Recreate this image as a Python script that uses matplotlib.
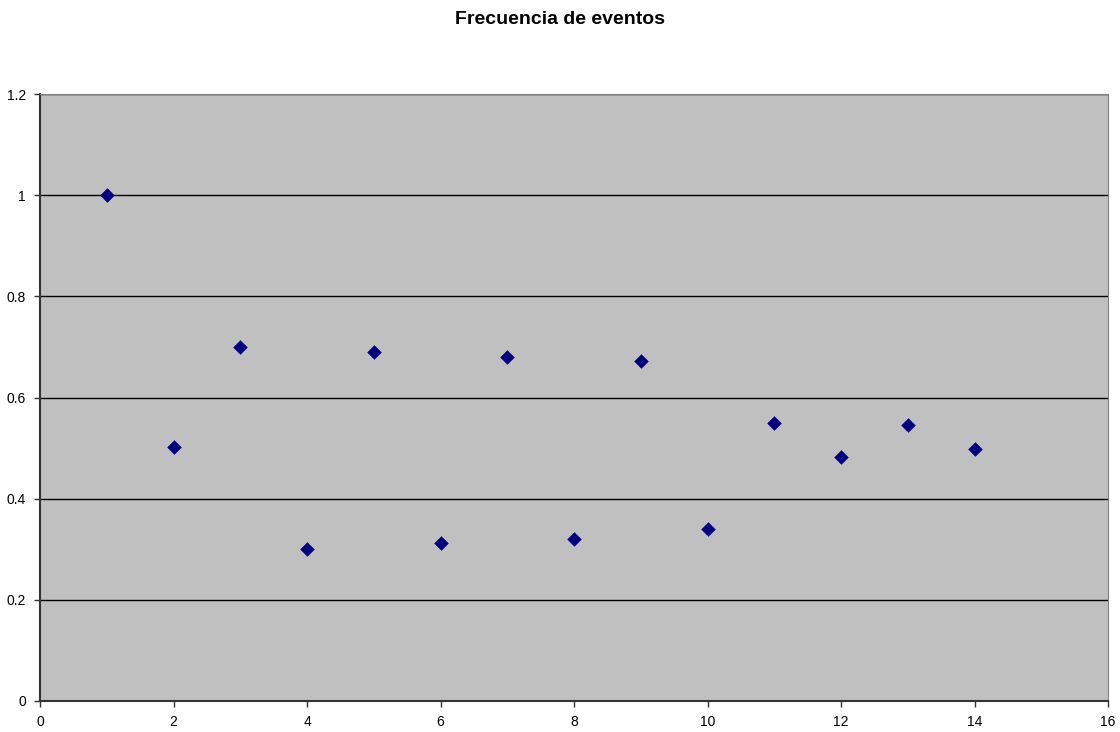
import matplotlib.pyplot as plt

# Data
x = [1, 2, 3, 4, 5, 6, 7, 8, 9, 10, 11, 12, 13, 14]
frecuencia = [1.0, 0.502, 0.700, 0.300, 0.690, 0.312, 0.680, 0.320, 0.672, 0.340, 0.550, 0.482, 0.546, 0.498]
x_ticks = [0, 2, 4, 6, 8, 10, 12, 14, 16]
y_ticks = [0, 0.2, 0.4, 0.6, 0.8, 1.0, 1.2]
y_labels = ['0', '0.2', '0.4', '0.6', '0.8', '1', '1.2']

plt.rcParams['font.family'] = ['Liberation Sans', 'DejaVu Sans']

fig = plt.figure(figsize=(11.2, 7.32), dpi=100)
ax = fig.add_axes([40 / 1120, 31 / 732, 1068 / 1120, 607 / 732])
ax.set_facecolor('#C0C0C0')

ax.scatter(x, frecuencia, marker='D', s=55, color='#000080', zorder=3, linewidths=0)

ax.set_xlim(0, 16)
ax.set_ylim(0, 1.2)
ax.set_xticks(x_ticks)
ax.set_yticks(y_ticks)
ax.set_yticklabels(y_labels)
ax.tick_params(labelsize=10, length=4, width=1, color='#333333', pad=6)

ax.yaxis.grid(True, color='black', linewidth=1)
ax.set_axisbelow(True)

ax.spines['left'].set_color('#333333')
ax.spines['bottom'].set_color('#333333')
ax.spines['left'].set_linewidth(1.5)
ax.spines['bottom'].set_linewidth(1.5)
ax.spines['top'].set_color('#808080')
ax.spines['right'].set_color('#808080')

fig.text(0.5, 1 - 20 / 732, 'Frecuencia de eventos', ha='center', va='center',
         fontsize=14, fontweight='bold')

fig.savefig('out.png', dpi=100)
